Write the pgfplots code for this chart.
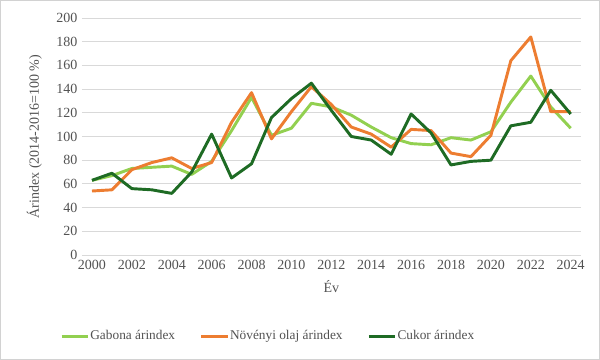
\documentclass[border=0pt]{standalone}
\usepackage{fontspec}
\setmainfont{Liberation Serif}
\usepackage{pgfplots}
\pgfplotsset{compat=1.18}
\definecolor{cLight}{HTML}{92D050}
\definecolor{cOrange}{HTML}{ED7D31}
\definecolor{cDark}{HTML}{1E6B24}
\begin{document}
\begin{tikzpicture}[x=1pt,y=1pt]
\useasboundingbox (0,0) rectangle (450,270);
\draw[gray!35, line width=0.8pt] (0.4,0.4) rectangle (449.6,269.6);
\begin{axis}[
  at={(61.5pt,78.75pt)}, anchor=south west,
  scale only axis, width=374pt, height=177.75pt,
  xmin=1999.5, xmax=2024.5, ymin=0, ymax=200,
  xtick={2000,2002,...,2024}, ytick={0,20,...,200},
  xticklabel style={/pgf/number format/1000 sep={}},
  /pgf/number format/assume math mode=true,
  axis line style={draw=none},
  tick style={draw=none},
  ymajorgrids, grid style={gray!30, line width=0.6pt},
  tick label style={font=\fontsize{10.5}{12}\selectfont, text=black!68},
  xlabel={Év}, ylabel={Árindex (2014-2016=100 \%)},
  label style={font=\fontsize{10.5}{12}\selectfont, text=black!68},
  xlabel style={yshift=-2pt},
  ylabel style={yshift=4pt},
  legend style={at={(0.372,-0.342)}, anchor=center, draw=none, legend columns=3,
    font=\fontsize{10}{12}\selectfont, text=black!68,
    nodes={inner xsep=0.5pt},
    /tikz/every even column/.append style={column sep=18pt}},
  legend image code/.code={\draw[#1, line width=2.2pt] (0,0) -- (20pt,0);},
  every axis plot/.append style={line width=2.2pt, line join=round},
]
\addplot[cLight] coordinates {(2000,63)(2001,67)(2002,73)(2003,74)(2004,75)(2005,68)(2006,79)(2007,105)(2008,133)(2009,101)(2010,107)(2011,128)(2012,125)(2013,118)(2014,108)(2015,99)(2016,94)(2017,93)(2018,99)(2019,97)(2020,104)(2021,129)(2022,151)(2023,125)(2024,107)};
\addlegendentry{Gabona árindex}
\addplot[cOrange] coordinates {(2000,54)(2001,55)(2002,72)(2003,78)(2004,82)(2005,73)(2006,78)(2007,112)(2008,137)(2009,98)(2010,121)(2011,142)(2012,127)(2013,108)(2014,102)(2015,91)(2016,106)(2017,105)(2018,86)(2019,83)(2020,101)(2021,164)(2022,184)(2023,121)(2024,121)};
\addlegendentry{Növényi olaj árindex}
\addplot[cDark] coordinates {(2000,63)(2001,69)(2002,56)(2003,55)(2004,52)(2005,70)(2006,102)(2007,65)(2008,77)(2009,116)(2010,132)(2011,145)(2012,122)(2013,100)(2014,97)(2015,85)(2016,119)(2017,103)(2018,76)(2019,79)(2020,80)(2021,109)(2022,112)(2023,139)(2024,119)};
\addlegendentry{Cukor árindex}
\end{axis}
\end{tikzpicture}
\end{document}
